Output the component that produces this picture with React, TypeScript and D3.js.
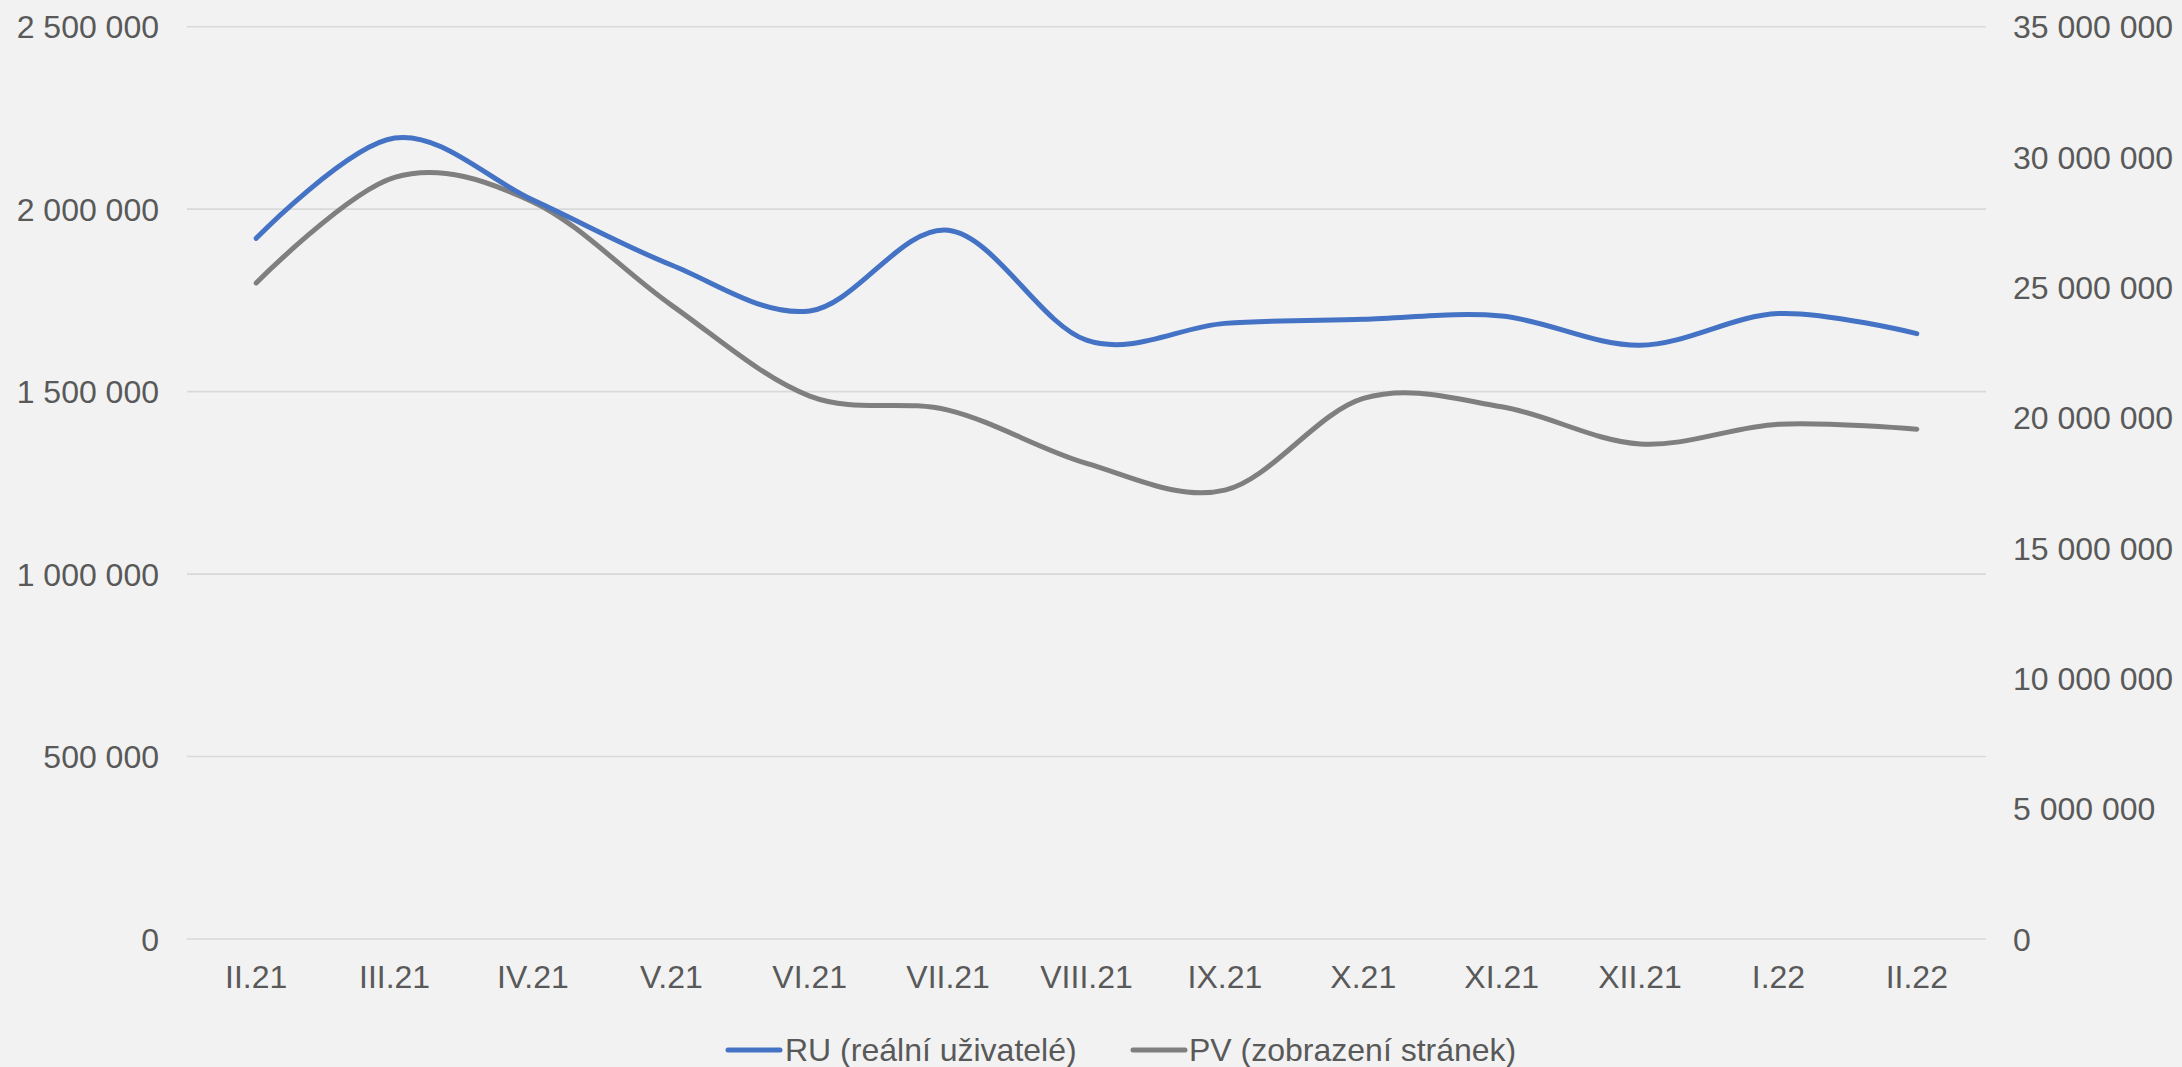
import React from "react";
import * as d3 from "d3";

const categories = ["II.21", "III.21", "IV.21", "V.21", "VI.21", "VII.21", "VIII.21", "IX.21", "X.21", "XI.21", "XII.21", "I.22", "II.22"];
const ruValues = [1920000, 2195000, 2025000, 1847000, 1721000, 1942000, 1641000, 1687000, 1698000, 1707000, 1627000, 1714000, 1659000];
const pvValues = [25170000, 29220000, 28280000, 24320000, 20830000, 20290000, 18250000, 17220000, 20740000, 20420000, 18990000, 19750000, 19560000];
const leftTicks = [0, 500000, 1000000, 1500000, 2000000, 2500000];
const rightTicks = [0, 5000000, 10000000, 15000000, 20000000, 25000000, 30000000, 35000000];
const seriesNames = ["RU (reální uživatelé)", "PV (zobrazení stránek)"];

const W = 2182;
const H = 1067;
const FONT = "'Liberation Sans', Arial, sans-serif";
const TEXT = "#595959";
const BLUE = "#4472C4";
const GRAY = "#7F7F7F";
const SW = 5;

const fmt = (v: number) => {
  const s = Math.round(v).toString();
  return s.replace(/\B(?=(\d{3})+(?!\d))/g, " ");
};

export default function App() {
  const x = d3.scaleBand<string>().domain(categories).range([187, 1986]);
  const yL = d3.scaleLinear().domain([0, 2500000]).range([939, 26.7]);
  const yR = d3.scaleLinear().domain([0, 35000000]).range([939, 26.7]);
  const cx = (c: string) => (x(c) as number) + x.bandwidth() / 2;

  const lineL = d3
    .line<number>()
    .x((_, i) => cx(categories[i]))
    .y((d) => yL(d))
    .curve(d3.curveCardinal.tension(0));
  const lineR = d3
    .line<number>()
    .x((_, i) => cx(categories[i]))
    .y((d) => yR(d))
    .curve(d3.curveCardinal.tension(0));

  return (
    <svg
      width={W}
      height={H}
      style={{ position: "absolute", left: 0, top: 0, background: "#F2F2F2" }}
      fontFamily={FONT}
    >
      <rect x={0} y={0} width={W} height={H} fill="#F2F2F2" />
      {leftTicks.map((t) => (
        <line key={"g" + t} x1={187} x2={1986} y1={yL(t)} y2={yL(t)} stroke="#D9D9D9" strokeWidth={1.6} />
      ))}
      {leftTicks.map((t) => (
        <text key={"l" + t} x={159} y={yL(t) + 11.5} textAnchor="end" fontSize={32} fill={TEXT}>
          {fmt(t)}
        </text>
      ))}
      {rightTicks.map((t) => (
        <text key={"r" + t} x={2013} y={yR(t) + 11.5} textAnchor="start" fontSize={32} fill={TEXT}>
          {fmt(t)}
        </text>
      ))}
      {categories.map((c) => (
        <text key={"c" + c} x={cx(c)} y={988} textAnchor="middle" fontSize={32} fill={TEXT}>
          {c}
        </text>
      ))}
      <path d={lineR(pvValues) || ""} fill="none" stroke={GRAY} strokeWidth={SW} strokeLinecap="round" strokeLinejoin="round" />
      <path d={lineL(ruValues) || ""} fill="none" stroke={BLUE} strokeWidth={SW} strokeLinecap="round" strokeLinejoin="round" />
      <line x1={728} x2={780} y1={1050} y2={1050} stroke={BLUE} strokeWidth={SW} strokeLinecap="round" />
      <text x={785} y={1061} fontSize={32} fill={TEXT}>{seriesNames[0]}</text>
      <line x1={1133} x2={1185} y1={1050} y2={1050} stroke={GRAY} strokeWidth={SW} strokeLinecap="round" />
      <text x={1189} y={1061} fontSize={32} fill={TEXT}>{seriesNames[1]}</text>
    </svg>
  );
}
